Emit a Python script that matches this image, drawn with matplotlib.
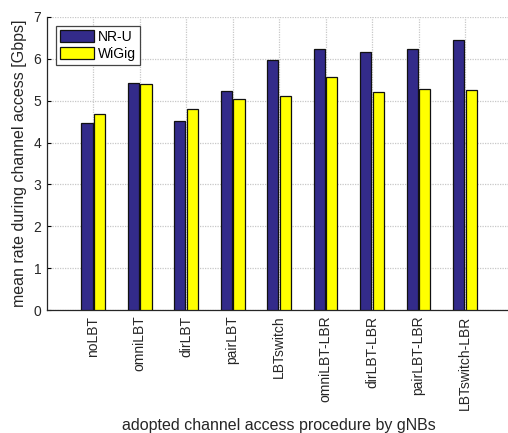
import numpy as np
import matplotlib
matplotlib.use('Agg')
import matplotlib.pyplot as plt

plt.rcParams['font.family'] = ['Liberation Sans', 'DejaVu Sans']

# data
categories = ['noLBT', 'omniLBT', 'dirLBT', 'pairLBT', 'LBTswitch',
              'omniLBT-LBR', 'dirLBT-LBR', 'pairLBT-LBR', 'LBTswitch-LBR']
nru = [4.47, 5.42, 4.52, 5.23, 5.96, 6.24, 6.16, 6.24, 6.44]
wigig = [4.67, 5.39, 4.81, 5.04, 5.12, 5.56, 5.20, 5.28, 5.26]

x = np.arange(1, len(categories) + 1)
w = 0.24

fig = plt.figure(figsize=(5.08, 4.33), dpi=100)
ax = fig.add_axes([0.092, 0.284, 0.915, 0.677])

ax.bar(x - 0.135, nru, w, color='#332b8a', edgecolor='#111111', linewidth=0.9,
       label='NR-U', zorder=3)
ax.bar(x + 0.135, wigig, w, color='#ffff00', edgecolor='#111111', linewidth=0.9,
       label='WiGig', zorder=3)

ax.set_xlim(0, 10)
ax.set_ylim(0, 7)
ax.set_xticks(x)
ax.set_xticklabels(categories, rotation=90, fontsize=10, color='#262626')
ax.set_yticks(np.arange(0, 8, 1))
ax.tick_params(axis='y', labelsize=10, labelcolor='#262626', direction='in', length=3, pad=4)
ax.tick_params(axis='x', direction='in', length=0, pad=4)

ax.grid(True, color='#c8c8c8', linestyle=(0, (1, 1)), linewidth=0.9, zorder=0)
ax.set_axisbelow(True)
for s in ['top', 'right']:
    ax.spines[s].set_visible(False)
for s in ['left', 'bottom']:
    ax.spines[s].set_color('#262626')
    ax.spines[s].set_linewidth(0.9)

ax.set_xlabel('adopted channel access procedure by gNBs', fontsize=11.5, color='#262626')
ax.xaxis.set_label_coords(0.5, -(425 - 310) / 293.0)
ax.xaxis.label.set_va('center')
ax.set_ylabel('mean rate during channel access [Gbps]', fontsize=11.5, color='#262626')
ax.yaxis.set_label_coords(-(47 - 20) / 465.0, 0.5)
ax.yaxis.label.set_va('center')

leg = ax.legend(loc='upper left', bbox_to_anchor=(0.02, 0.97), fontsize=10,
                handlelength=2.4, handleheight=1.0, fancybox=False, framealpha=1,
                borderpad=0.3, labelspacing=0.2, handletextpad=0.3, borderaxespad=0)
leg.get_frame().set_edgecolor('#444444')
leg.get_frame().set_linewidth(0.9)

fig.savefig('out.png', dpi=100)
